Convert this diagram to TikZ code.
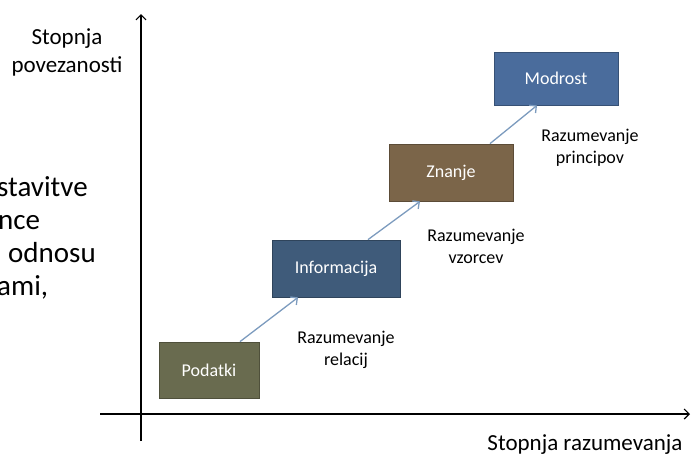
\documentclass[tikz,border=0pt]{standalone}
\usepackage{fontspec}
\setmainfont{Carlito}
\usetikzlibrary{arrows.meta,positioning}

\definecolor{podatkiFill}{HTML}{696B4F}
\definecolor{informacijaFill}{HTML}{3F5B7A}
\definecolor{znanjeFill}{HTML}{7B6549}
\definecolor{modrostFill}{HTML}{4A6C9C}
\definecolor{linkBlue}{HTML}{7C9BBE}

\begin{document}
\begin{tikzpicture}[x=1pt,y=-1pt,
    level/.style={draw=#1!75!black, fill=#1, line width=0.8pt,
        minimum width=124pt, minimum height=57pt, inner sep=0pt,
        text=white, font=\fontsize{18}{22}\selectfont},
    link/.style={draw=linkBlue, line width=1.3pt,
        -{Straight Barb[length=5pt,width=10pt]}},
    axis/.style={draw=black, line width=1.2pt,
        -{Straight Barb[length=5pt,width=10pt]}},
    note/.style={align=center, inner sep=0pt,
        font=\fontsize{18}{22}\selectfont},
    axislabel/.style={align=center, inner sep=0pt,
        font=\fontsize{23}{28}\selectfont},
    bullettext/.style={anchor=base west, inner sep=0pt,
        font=\fontsize{29}{37}\selectfont}]

    \useasboundingbox (0,0) rectangle (691,456);

    % axes
    \coordinate (AxisOrigin) at (141,414);
    \coordinate (AxisBot) at (141,441);
    \coordinate (AxisTop) at (141,14);
    \coordinate (AxisLeft) at (100,414);
    \coordinate (AxisRight) at (690,414);
    \draw[axis] (AxisBot) -- (AxisTop);
    \draw[axis] (AxisLeft) -- (AxisRight);

    \node[axislabel] (YLabel) at (67,52) {Stopnja\\povezanosti};
    \node[axislabel, anchor=base] (XLabel) at (585,450) {Stopnja razumevanja};

    % text cut off at the left edge
    \node[bullettext] (LineA) at (-3,196) {stavitve};
    \node[bullettext] (LineB) at (-2,229) {nce};
    \node[bullettext] (LineC) at (8,262) {odnosu};
    \node[bullettext] (LineD) at (-3,295) {ami,};

    % levels
    \node[level=podatkiFill, minimum width=100pt, minimum height=56pt]
        (Podatki) at (209,370) {Podatki};
    \node[level=informacijaFill, minimum width=128pt]
        (Informacija) at (336,268.5) {Informacija};
    \node[level=znanjeFill]
        (Znanje) at (451,172.5) {Znanje};
    \node[level=modrostFill, minimum height=53pt]
        (Modrost) at (556,78.5) {Modrost};

    \draw[link] ([xshift=31pt]Podatki.north) -- ([xshift=-38pt]Informacija.south);
    \draw[link] ([xshift=32pt]Informacija.north) -- ([xshift=-31pt]Znanje.south);
    \draw[link] ([xshift=39pt]Znanje.north) -- ([xshift=-19pt]Modrost.south);

    \node[note] (RelacijLabel) at (346,350) {Razumevanje\\relacij};
    \node[note] (VzorcevLabel) at (476,246) {Razumevanje\\vzorcev};
    \node[note] (PrincipovLabel) at (590,148) {Razumevanje\\principov};

\end{tikzpicture}
\end{document}
